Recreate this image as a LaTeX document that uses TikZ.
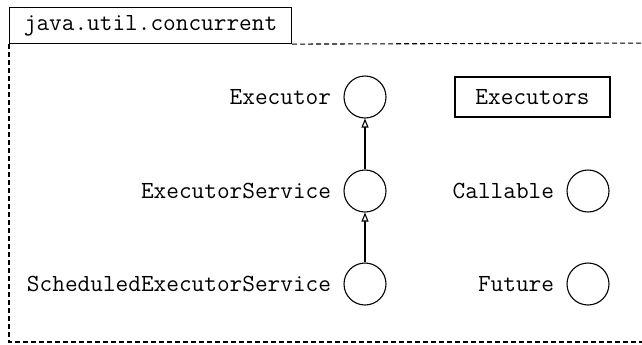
\documentclass[tikz,border=0pt]{standalone}
\usetikzlibrary{arrows.meta}
\begin{document}
\begin{tikzpicture}[x=0.5pt,y=-0.5pt,font=\ttfamily\fontsize{12.3}{14}\selectfont,
  iface/.style={draw,circle,minimum size=21pt,inner sep=0pt,line width=0.55pt},
  ifacelbl/.style={anchor=east,inner sep=0pt},
  classbox/.style={draw,line width=0.55pt,inner sep=0pt,minimum height=20pt},
  extends/.style={-{Triangle[open,length=4.5pt,width=3.5pt]},line width=0.55pt},
  pkgline/.style={dashed,dash pattern=on 2.5pt off 1.5pt,line width=0.55pt}]
  \clip (0,0) rectangle (642,344);
  % package tab and frame
  \node[classbox,anchor=north west,minimum width=141pt,minimum height=18pt] (pkg) at (9,7) {java.util.concurrent};
  \draw[pkgline] (pkg.south east) -- (660,43);
  \draw[pkgline] (pkg.south west) -- (9,342) -- (660,342);
  % interfaces
  \node[iface] (exec) at (365,97) {};
  \node[iface] (svc) at (365,191) {};
  \node[iface] (sched) at (365,284) {};
  \node[iface] (call) at (588,191) {};
  \node[iface] (fut) at (588,284) {};
  \node[ifacelbl] (execlbl) at ([xshift=-6pt]exec.west) {Executor};
  \node[ifacelbl] (svclbl) at ([xshift=-6pt]svc.west) {ExecutorService};
  \node[ifacelbl] (schedlbl) at ([xshift=-6pt]sched.west) {ScheduledExecutorService};
  \node[ifacelbl] (calllbl) at ([xshift=-6pt]call.west) {Callable};
  \node[ifacelbl] (futlbl) at ([xshift=-6pt]fut.west) {Future};
  % class
  \node[classbox,minimum width=77.5pt] (execs) at (532.5,97) {Executors};
  % inheritance
  \draw[extends] (svc) -- (exec);
  \draw[extends] (sched) -- (svc);
\end{tikzpicture}
\end{document}
